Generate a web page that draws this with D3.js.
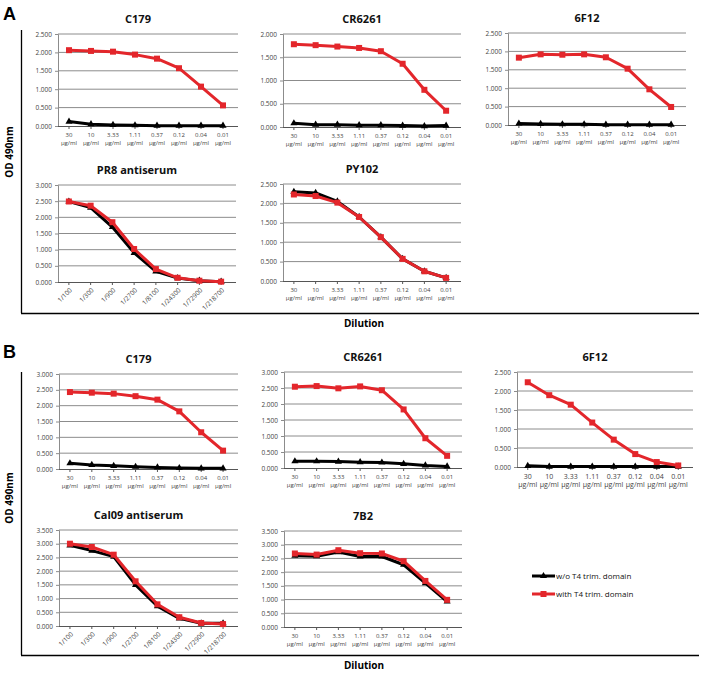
<!DOCTYPE html>
<html><head><meta charset="utf-8">
<script src="https://cdn.jsdelivr.net/npm/d3@7"></script>
<style>body{margin:0;background:#fff}svg{display:block}</style>
</head><body>
<svg id="c" width="702" height="676"></svg>
<script>
// ---------- data ----------
const concLabels = ["30","10","3.33","1.11","0.37","0.12","0.04","0.01"];
const concUnit = "µg/ml";
const dilutionLabels = ["1/100","1/300","1/900","1/2700","1/8100","1/24300","1/72900","1/218700"];
const seriesNames = ["w/o T4 trim. domain","with T4 trim. domain"];

const A_C179_wo   = [0.12,0.05,0.03,0.02,0.01,0.01,0.01,0.01];
const A_C179_with = [2.06,2.04,2.02,1.94,1.83,1.57,1.07,0.56];
const A_CR6261_wo   = [0.08,0.05,0.05,0.04,0.04,0.03,0.02,0.03];
const A_CR6261_with = [1.78,1.76,1.73,1.70,1.63,1.36,0.80,0.35];
const A_6F12_wo   = [0.04,0.03,0.02,0.02,0.01,0.01,0.01,0.01];
const A_6F12_with = [1.83,1.92,1.91,1.92,1.84,1.53,0.97,0.49];
const A_PR8_wo   = [2.49,2.30,1.70,0.90,0.33,0.12,0.04,0.01];
const A_PR8_with = [2.49,2.36,1.85,1.02,0.40,0.13,0.04,0.01];
const A_PY102_wo   = [2.30,2.27,2.05,1.65,1.13,0.57,0.25,0.08];
const A_PY102_with = [2.23,2.19,2.02,1.65,1.13,0.57,0.25,0.08];

const B_C179_wo   = [0.18,0.13,0.10,0.07,0.05,0.03,0.02,0.02];
const B_C179_with = [2.43,2.41,2.38,2.30,2.19,1.82,1.16,0.58];
const B_CR6261_wo   = [0.21,0.21,0.20,0.18,0.17,0.13,0.08,0.05];
const B_CR6261_with = [2.54,2.56,2.49,2.55,2.43,1.83,0.93,0.38];
const B_6F12_wo   = [0.03,0.01,0.01,0.01,0.01,0.01,0.01,0.01];
const B_6F12_with = [2.23,1.89,1.64,1.17,0.72,0.34,0.13,0.04];
const B_Cal09_wo   = [2.94,2.75,2.53,1.50,0.72,0.28,0.10,0.10];
const B_Cal09_with = [3.00,2.88,2.60,1.63,0.79,0.32,0.11,0.07];
const B_7B2_wo   = [2.60,2.58,2.73,2.57,2.57,2.27,1.60,0.93];
const B_7B2_with = [2.68,2.64,2.80,2.69,2.68,2.40,1.68,0.99];

// ---------- layout ----------
const charts = [
  {title:"C179", wo:A_C179_wo, w:A_C179_with, ymax:2.5, x0:58, x1:234, y0:34, y1:126, cats:"conc"},
  {title:"CR6261", wo:A_CR6261_wo, w:A_CR6261_with, ymax:2.0, x0:283, x1:457, y0:34, y1:127, cats:"conc"},
  {title:"6F12", wo:A_6F12_wo, w:A_6F12_with, ymax:2.5, x0:508, x1:682, y0:33, y1:125, cats:"conc"},
  {title:"PR8 antiserum", wo:A_PR8_wo, w:A_PR8_with, ymax:3.0, x0:58, x1:232, y0:185, y1:282, cats:"dil"},
  {title:"PY102", wo:A_PY102_wo, w:A_PY102_with, ymax:2.5, x0:283, x1:457, y0:184, y1:281, cats:"conc"},
  {title:"C179", wo:B_C179_wo, w:B_C179_with, ymax:3.0, x0:59, x1:234, y0:374, y1:469, cats:"conc"},
  {title:"CR6261", wo:B_CR6261_wo, w:B_CR6261_with, ymax:3.0, x0:284, x1:458, y0:372, y1:468, cats:"conc"},
  {title:"6F12", wo:B_6F12_wo, w:B_6F12_with, ymax:2.5, x0:517, x1:689, y0:372, y1:467, cats:"conc", big:true},
  {title:"Cal09 antiserum", wo:B_Cal09_wo, w:B_Cal09_with, ymax:3.5, x0:59, x1:234, y0:530, y1:626, cats:"dil"},
  {title:"7B2", wo:B_7B2_wo, w:B_7B2_with, ymax:3.5, x0:284, x1:458, y0:531, y1:627, cats:"conc"}
];

const RED = "#e3262b", BLACK = "#000";
const FONT = "'Open Sans', 'Liberation Sans', sans-serif";
const svg = d3.select("#c");
const fmt = d3.format(".3f");

charts.forEach(c => {
  const g = svg.append("g");
  const idx = d3.range(8);
  const x = d3.scaleBand().domain(idx).range([c.x0, c.x1]);
  const y = d3.scaleLinear().domain([0, c.ymax]).range([c.y1, c.y0]);
  const ticks = d3.range(0, c.ymax + 1e-9, 0.5);
  // gridlines
  g.selectAll("line.grid").data(ticks.filter(t => t > 0)).join("line")
    .attr("x1", c.x0).attr("x2", c.x1 + 4)
    .attr("y1", d => y(d)).attr("y2", d => y(d))
    .attr("stroke", "#8c8c8c").attr("stroke-width", 1);
  // y axis
  const ya = d3.axisLeft(y).tickValues(ticks).tickFormat(fmt).tickSize(3).tickPadding(3);
  const yg = g.append("g").attr("transform", `translate(${c.x0},0)`).call(ya);
  yg.select(".domain").attr("stroke", "#8c8c8c");
  yg.selectAll(".tick line").attr("stroke", "#8c8c8c");
  yg.selectAll("text").attr("font-size", 6.5).attr("font-family", FONT).attr("fill", "#444");
  // x axis
  const xa = d3.axisBottom(x).tickSize(3).tickFormat("");
  const xg = g.append("g").attr("transform", `translate(0,${c.y1})`).call(xa);
  xg.select(".domain").attr("stroke", "#555").attr("stroke-width", 1.2).attr("d", `M${c.x0},0.5H${c.x1 + 4}`);
  xg.selectAll(".tick line").attr("stroke", "#555");
  if (c.cats === "conc") {
    const fs = c.big ? 7 : 6;
    g.selectAll("text.xl").data(idx).join("text")
      .attr("x", i => x(i) + x.bandwidth() / 2).attr("y", c.y1 + (c.big ? 12 : 11))
      .attr("text-anchor", "middle").attr("font-size", fs).attr("font-family", FONT).attr("fill", "#444")
      .text(i => concLabels[i]);
    g.selectAll("text.xu").data(idx).join("text")
      .attr("x", i => x(i) + x.bandwidth() / 2).attr("y", c.y1 + (c.big ? 20 : 19))
      .attr("text-anchor", "middle").attr("font-size", fs).attr("font-family", FONT).attr("fill", "#444")
      .text(concUnit);
  } else {
    g.selectAll("text.xd").data(idx).join("text")
      .attr("transform", i => `translate(${x(i) + x.bandwidth() / 2 + 2},${c.y1 + 7}) rotate(-45)`)
      .attr("text-anchor", "end").attr("dy", "0.35em")
      .attr("font-size", 6.5).attr("font-family", FONT).attr("fill", "#444")
      .text(i => dilutionLabels[i]);
  }
  // title
  g.append("text").attr("x", (c.x0 + c.x1) / 2 - 8).attr("y", c.y0 - 11)
    .attr("text-anchor", "middle").attr("font-size", 11).attr("font-weight", "bold")
    .attr("font-family", FONT).attr("fill", "#111").text(c.title);
  // lines
  const line = d3.line().x((d, i) => x(i) + x.bandwidth() / 2).y(d => y(d));
  const tri = d3.symbol().type(d3.symbolTriangle).size(22);
  g.append("path").datum(c.wo).attr("d", line).attr("fill", "none")
    .attr("stroke", BLACK).attr("stroke-width", 3).attr("stroke-linejoin", "round");
  g.selectAll("path.tri").data(c.wo).join("path")
    .attr("transform", (d, i) => `translate(${x(i) + x.bandwidth() / 2},${y(d)})`)
    .attr("d", tri).attr("fill", BLACK);
  g.append("path").datum(c.w).attr("d", line).attr("fill", "none")
    .attr("stroke", RED).attr("stroke-width", 3).attr("stroke-linejoin", "round");
  g.selectAll("rect.sq").data(c.w).join("rect")
    .attr("x", (d, i) => x(i) + x.bandwidth() / 2 - 3).attr("y", d => y(d) - 3)
    .attr("width", 6).attr("height", 6).attr("fill", RED);
});

// panel frames
const frames = [{top:30, bottom:313, letter:"A", ly:20, odY:152, dilY:327},
                {top:372, bottom:655, letter:"B", ly:358, odY:498, dilY:669}];
frames.forEach(f => {
  svg.append("line").attr("x1", 21.5).attr("x2", 21.5).attr("y1", f.top).attr("y2", f.bottom)
    .attr("stroke", "#000").attr("stroke-width", 1.3);
  svg.append("line").attr("x1", 21).attr("x2", 699).attr("y1", f.bottom + 0.5).attr("y2", f.bottom + 0.5)
    .attr("stroke", "#000").attr("stroke-width", 1.3);
  svg.append("text").attr("x", 3).attr("y", f.ly).attr("font-size", 18).attr("font-weight", "bold")
    .attr("font-family", "'Liberation Sans', Arial, sans-serif").text(f.letter);
  svg.append("text").attr("transform", `translate(13,${f.odY}) rotate(-90)`)
    .attr("text-anchor", "middle").attr("font-size", 10).attr("font-weight", "bold")
    .attr("font-family", FONT).text("OD 490nm");
  svg.append("text").attr("x", 364).attr("y", f.dilY).attr("text-anchor", "middle")
    .attr("font-size", 10).attr("font-weight", "bold").attr("font-family", FONT).text("Dilution");
});

// legend
const leg = svg.append("g");
const legY = [576, 594];
[BLACK, RED].forEach((col, i) => {
  leg.append("line").attr("x1", 532).attr("x2", 555).attr("y1", legY[i]).attr("y2", legY[i])
    .attr("stroke", col).attr("stroke-width", 3);
  if (i === 0) leg.append("path").attr("transform", `translate(543.5,${legY[i]})`)
    .attr("d", d3.symbol().type(d3.symbolTriangle).size(22)).attr("fill", col);
  else leg.append("rect").attr("x", 540.5).attr("y", legY[i] - 3).attr("width", 6).attr("height", 6).attr("fill", col);
  leg.append("text").attr("x", 556).attr("y", legY[i]).attr("dy", "0.35em")
    .attr("font-size", 8).attr("font-family", FONT).attr("fill", "#111").text(seriesNames[i]);
});
</script>
</body></html>
